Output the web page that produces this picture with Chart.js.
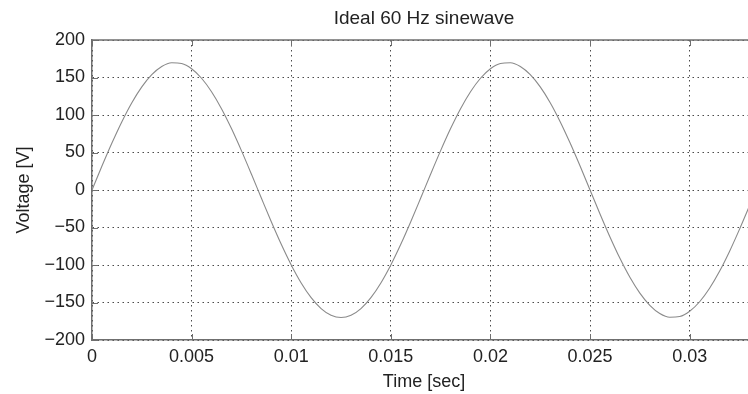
<!DOCTYPE html>
<html>
<head>
<meta charset="utf-8">
<script src="https://cdn.jsdelivr.net/npm/chart.js@4"></script>
<style>
  html, body { margin: 0; padding: 0; background: #ffffff; overflow: hidden; }
  #wrap { width: 760px; height: 394px; }
</style>
</head>
<body>
<div id="wrap"><canvas id="chart"></canvas></div>
<script>
    'use strict';

    // time in seconds, sampled every 0.5 ms
    const timeSec = [
        0, 0.0005, 0.001, 0.0015, 0.002, 0.0025, 0.003, 0.0035, 0.004, 0.0045,
        0.005, 0.0055, 0.006, 0.0065, 0.007, 0.0075, 0.008, 0.0085, 0.009, 0.0095,
        0.01, 0.0105, 0.011, 0.0115, 0.012, 0.0125, 0.013, 0.0135, 0.014, 0.0145,
        0.015, 0.0155, 0.016, 0.0165, 0.017, 0.0175, 0.018, 0.0185, 0.019, 0.0195,
        0.02, 0.0205, 0.021, 0.0215, 0.022, 0.0225, 0.023, 0.0235, 0.024, 0.0245,
        0.025, 0.0255, 0.026, 0.0265, 0.027, 0.0275, 0.028, 0.0285, 0.029, 0.0295,
        0.03, 0.0305, 0.031, 0.0315, 0.032, 0.0325, 0.033, 0.0335
    ];

    // voltage in volts
    const voltage = [
        0, 31.9, 62.6, 91.1, 116.4, 137.5, 153.8, 164.7, 169.7, 168.7,
        161.7, 149.0, 131.0, 108.4, 81.9, 52.5, 21.3, -10.7, -42.3, -72.4,
        -99.9, -123.9, -143.5, -158.1, -167.0, -170, -167.0, -158.1, -143.5, -123.9,
        -99.9, -72.4, -42.3, -10.7, 21.3, 52.5, 81.9, 108.4, 131.0, 149.0,
        161.7, 168.7, 169.7, 164.7, 153.8, 137.5, 116.4, 91.1, 62.6, 31.9,
        0, -31.9, -62.6, -91.1, -116.4, -137.5, -153.8, -164.7, -169.7, -168.7,
        -161.7, -149.0, -131.0, -108.4, -81.9, -52.5, -21.3, 10.7
    ];

    const xTickValues = [0, 0.005, 0.01, 0.015, 0.02, 0.025, 0.03];
    const yTickValues = [-200, -150, -100, -50, 0, 50, 100, 150, 200];

    const FONT = 'Liberation Sans, Arial, Helvetica, sans-serif';
    const AXIS_COLOR = '#6f6f6f';
    const TEXT_COLOR = '#222222';
    const DOTS = [1.5, 3.5];

    const fmt = (v) => (v < 0 ? '\u2212' + String(-v) : String(v));

    // matlab style frame: top line plus short ticks pointing inwards
    const innerFrame = {
        id: 'innerFrame',
        afterDraw(chart) {
            const { ctx, chartArea, scales } = chart;
            const len = 6;
            ctx.save();
            ctx.strokeStyle = AXIS_COLOR;
            ctx.lineWidth = 1.5;
            ctx.beginPath();
            ctx.moveTo(chartArea.left, chartArea.top);
            ctx.lineTo(chartArea.right, chartArea.top);
            ctx.lineTo(chartArea.right, chartArea.bottom);
            ctx.stroke();

            ctx.lineWidth = 1;
            ctx.beginPath();
            xTickValues.forEach((v) => {
                const x = Math.round(scales.x.getPixelForValue(v)) + 0.5;
                ctx.moveTo(x, chartArea.bottom);
                ctx.lineTo(x, chartArea.bottom - len);
                ctx.moveTo(x, chartArea.top);
                ctx.lineTo(x, chartArea.top + len);
            });
            yTickValues.forEach((v) => {
                const y = Math.round(scales.y.getPixelForValue(v)) + 0.5;
                ctx.moveTo(chartArea.left, y);
                ctx.lineTo(chartArea.left + len, y);
                ctx.moveTo(chartArea.right, y);
                ctx.lineTo(chartArea.right - len, y);
            });
            ctx.stroke();
            ctx.restore();
        },
    };

    const gridStyle = {
        color: '#4a4a4a',
        lineWidth: 1,
        drawTicks: false,
    };

    new Chart(document.getElementById('chart'), {
        type: 'line',
        data: {
            datasets: [{
                data: timeSec.map((t, i) => ({ x: t, y: voltage[i] })),
                borderColor: '#8a8a8a',
                borderWidth: 1.1,
                pointRadius: 0,
                cubicInterpolationMode: 'monotone',
                fill: false,
            }],
        },
        plugins: [innerFrame],
        options: {
            responsive: true,
            maintainAspectRatio: false,
            animation: false,
            layout: {
                padding: { left: 0, right: 4, top: 0, bottom: 0 },
            },
            plugins: {
                legend: { display: false },
                tooltip: { enabled: false },
            },
            scales: {
                x: {
                    type: 'linear',
                    min: 0,
                    max: 0.03333,
                    afterBuildTicks: (scale) => {
                        scale.ticks = xTickValues.map((value) => ({ value }));
                    },
                    afterFit: (scale) => {
                        scale.height = 54;
                    },
                    grid: { ...gridStyle },
                    border: { display: true, color: AXIS_COLOR, width: 1.5, dash: DOTS },
                    ticks: {
                        autoSkip: false,
                        maxRotation: 0,
                        padding: 6,
                        color: TEXT_COLOR,
                        font: { family: FONT, size: 18 },
                        callback: (v) => fmt(v),
                    },
                    title: {
                        display: true,
                        text: 'Time [sec]',
                        color: TEXT_COLOR,
                        font: { family: FONT, size: 18, lineHeight: 1.2 },
                        padding: { top: 0, bottom: 1.2 },
                    },
                },
                // empty top axis, only carries the title centred over the plot
                top: {
                    type: 'linear',
                    position: 'top',
                    min: 0,
                    max: 0.03333,
                    afterFit: (scale) => {
                        scale.height = 40;
                    },
                    grid: { display: false },
                    border: { display: false },
                    ticks: { display: false },
                    title: {
                        display: true,
                        text: 'Ideal 60 Hz sinewave',
                        color: TEXT_COLOR,
                        font: { family: FONT, size: 19, lineHeight: 1.2 },
                        padding: { top: 7.6, bottom: 0 },
                    },
                },
                y: {
                    min: -200,
                    max: 200,
                    afterBuildTicks: (scale) => {
                        scale.ticks = yTickValues.map((value) => ({ value }));
                    },
                    afterFit: (scale) => {
                        scale.width = 92;
                    },
                    grid: { ...gridStyle },
                    border: { display: true, color: AXIS_COLOR, width: 1.5, dash: DOTS },
                    ticks: {
                        padding: 7,
                        color: TEXT_COLOR,
                        font: { family: FONT, size: 18 },
                        callback: (v) => fmt(v),
                    },
                    title: {
                        display: true,
                        text: 'Voltage [V]',
                        color: TEXT_COLOR,
                        font: { family: FONT, size: 18, lineHeight: 1.2 },
                        padding: { top: 13.2, bottom: 0 },
                    },
                },
            },
        },
    });
</script>
</body>
</html>
